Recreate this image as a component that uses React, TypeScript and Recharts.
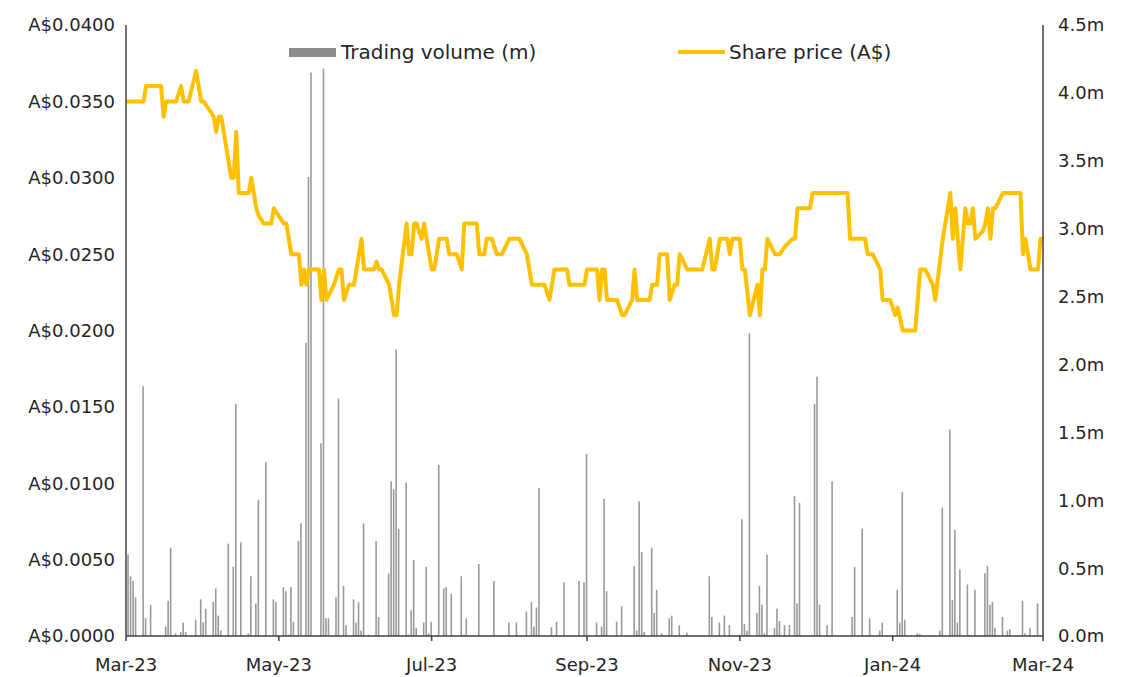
import { Bar, ComposedChart, Line, XAxis, YAxis } from 'recharts'

// x positions are calendar days counted from 1 Mar 2023
const monthTicks = [0, 61, 122, 184, 245, 306, 366]
const monthLabels = ['Mar-23', 'May-23', 'Jul-23', 'Sep-23', 'Nov-23', 'Jan-24', 'Mar-24']
const priceTicks = [0, 0.005, 0.01, 0.015, 0.02, 0.025, 0.03, 0.035, 0.04]
const volTicks = [0, 0.5, 1, 1.5, 2, 2.5, 3, 3.5, 4, 4.5]

const priceDays = [
  0, 7, 8, 14, 15, 16, 20, 22, 23, 25, 28, 30, 31, 33, 35, 36, 37, 38, 42, 43, 44, 45, 49, 50, 52, 53, 55, 58, 59, 63,
  64, 66, 69, 70, 71, 72, 73, 77, 78, 79, 80, 83, 85, 86, 87, 89, 91, 94, 95, 99, 100, 101, 102, 105, 107, 108, 109,
  112, 113, 114, 115, 116, 118, 119, 122, 123, 125, 128, 129, 132, 134, 135, 140, 141, 143, 144, 146, 148, 150, 153,
  157, 160, 162, 167, 169, 171, 176, 177, 183, 184, 188, 189, 190, 191, 192, 196, 198, 199, 202, 203, 204, 209, 210,
  212, 213, 216, 217, 219, 220, 221, 224, 230, 233, 234, 235, 237, 240, 241, 242, 245, 246, 247, 249, 252, 253, 254,
  255, 256, 259, 261, 263, 266, 267, 268, 273, 274, 288, 289, 295, 296, 298, 301, 302, 305, 307, 308, 310, 315, 317,
  319, 322, 323, 326, 329, 330, 331, 333, 335, 336, 337, 338, 339, 342, 343, 344, 345, 346, 347, 350, 357, 358, 359,
  361, 364, 365, 366,
]
const prices = [
  0.035, 0.035, 0.036, 0.036, 0.034, 0.035, 0.035, 0.036, 0.035, 0.035, 0.037, 0.035, 0.035, 0.0345, 0.034, 0.033,
  0.034, 0.034, 0.03, 0.03, 0.033, 0.029, 0.029, 0.03, 0.028, 0.0275, 0.027, 0.027, 0.028, 0.027, 0.027, 0.025, 0.025,
  0.023, 0.024, 0.023, 0.024, 0.024, 0.022, 0.024, 0.022, 0.023, 0.024, 0.024, 0.022, 0.023, 0.023, 0.026, 0.024,
  0.024, 0.0245, 0.024, 0.024, 0.023, 0.021, 0.021, 0.023, 0.027, 0.025, 0.025, 0.027, 0.027, 0.026, 0.027, 0.024,
  0.024, 0.026, 0.026, 0.025, 0.025, 0.024, 0.027, 0.027, 0.025, 0.025, 0.026, 0.026, 0.025, 0.025, 0.026, 0.026,
  0.025, 0.023, 0.023, 0.022, 0.024, 0.024, 0.023, 0.023, 0.024, 0.024, 0.022, 0.024, 0.024, 0.022, 0.022, 0.021,
  0.021, 0.022, 0.024, 0.022, 0.022, 0.023, 0.023, 0.025, 0.025, 0.022, 0.023, 0.023, 0.025, 0.024, 0.024, 0.026,
  0.024, 0.024, 0.026, 0.026, 0.025, 0.026, 0.026, 0.024, 0.024, 0.021, 0.023, 0.021, 0.024, 0.024, 0.026, 0.025,
  0.025, 0.0255, 0.026, 0.026, 0.028, 0.028, 0.029, 0.029, 0.026, 0.026, 0.025, 0.025, 0.024, 0.022, 0.022, 0.021,
  0.0215, 0.02, 0.02, 0.024, 0.024, 0.023, 0.022, 0.026, 0.029, 0.026, 0.028, 0.024, 0.028, 0.027, 0.027, 0.028,
  0.026, 0.0265, 0.027, 0.028, 0.026, 0.028, 0.028, 0.029, 0.029, 0.025, 0.026, 0.024, 0.024, 0.026, 0.026,
]

const volDays = [
  1, 2, 3, 4, 7, 8, 10, 16, 17, 18, 20, 22, 23, 24, 28, 30, 31, 32, 35, 36, 37, 38, 41, 43, 44, 46, 49, 50, 52, 53, 56,
  59, 60, 63, 64, 65, 66, 67, 69, 70, 72, 73, 74, 78, 79, 80, 81, 84, 85, 87, 88, 91, 92, 93, 94, 95, 97, 100, 101, 105,
  106, 107, 108, 109, 112, 113, 114, 115, 116, 119, 120, 121, 122, 125, 127, 128, 130, 134, 135, 136, 141, 147, 153,
  156, 160, 162, 163, 164, 165, 170, 172, 175, 181, 183, 184, 188, 190, 191, 192, 196, 198, 203, 204, 205, 206, 207,
  210, 211, 212, 214, 217, 218, 221, 224, 233, 234, 237, 239, 241, 245, 246, 247, 248, 249, 252, 253, 254, 255, 256,
  259, 260, 261, 263, 265, 267, 268, 269, 275, 276, 277, 280, 282, 290, 291, 294, 297, 301, 302, 308, 309, 310, 311,
  316, 317, 325, 326, 329, 330, 331, 332, 333, 336, 337, 339, 343, 344, 345, 346, 347, 350, 352, 353, 358, 359, 361,
  364,
]
const volumes = [
  0.6, 0.44, 0.405, 0.285, 1.84, 0.13, 0.23, 0.07, 0.26, 0.65, 0.02, 0.03, 0.1, 0.03, 0.12, 0.27, 0.1, 0.2, 0.25, 0.35,
  0.15, 0.04, 0.68, 0.51, 1.71, 0.69, 0.02, 0.44, 0.24, 1.0, 1.28, 0.27, 0.25, 0.36, 0.33, 0.01, 0.36, 0.105, 0.7,
  0.83, 2.16, 3.38, 4.15, 1.42, 4.18, 0.13, 0.13, 0.285, 1.75, 0.37, 0.08, 0.27, 0.1, 0.25, 0.04, 0.83, 0.01, 0.7,
  0.14, 0.46, 1.14, 1.08, 2.11, 0.79, 1.13, 0.01, 0.19, 0.56, 0.06, 0.1, 0.51, 0.02, 0.105, 1.26, 0.35, 0.36, 0.31,
  0.44, 0.01, 0.13, 0.53, 0.405, 0.1, 0.1, 0.18, 0.25, 0.07, 0.21, 1.09, 0.065, 0.105, 0.395, 0.405, 0.395, 1.34, 0.1,
  0.07, 1.01, 0.33, 0.105, 0.22, 0.515, 0.04, 0.99, 0.62, 0.03, 0.65, 0.17, 0.34, 0.02, 0.13, 0.15, 0.08, 0.025, 0.44,
  0.14, 0.1, 0.15, 0.08, 0.01, 0.86, 0.09, 0.04, 2.23, 0.17, 0.37, 0.23, 0.02, 0.6, 0.06, 0.2, 0.11, 0.08, 0.08, 1.03,
  0.24, 0.98, 1.71, 1.91, 0.23, 0.08, 1.14, 0.14, 0.51, 0.79, 0.13, 0.04, 0.1, 0.34, 0.1, 1.06, 0.12, 0.02, 0.015,
  0.04, 0.945, 1.52, 0.265, 0.78, 0.1, 0.49, 0.38, 0.01, 0.34, 0.46, 0.515, 0.23, 0.25, 0.06, 0.14, 0.04, 0.05, 0.26,
  0.02, 0.06, 0.24,
]

const rows = Array.from(new Set([...priceDays, ...volDays]))
  .sort((a, b) => a - b)
  .map((d) => {
    const pi = priceDays.indexOf(d)
    const vi = volDays.indexOf(d)
    return { d, price: pi >= 0 ? prices[pi] : null, vol: vi >= 0 ? volumes[vi] : null }
  })

const FONT = '"DejaVu Sans", Verdana, sans-serif'
const INK = '#262626'
const AXIS = '#404040'
const GOLD = '#FFC000'
const GREY = '#9a9a9a'
const tick = { fill: INK, fontSize: 18, fontFamily: FONT }

export default function App() {
  return (
    <div style={{ position: 'absolute', left: 0, top: 0, width: 1121, height: 677, background: '#fff', fontFamily: FONT }}>
      <ComposedChart width={1121} height={677} data={rows} margin={{ top: 25, right: 0, bottom: 0, left: 0 }}>
        <XAxis
          dataKey="d"
          type="number"
          domain={[0, 366]}
          ticks={monthTicks}
          tickFormatter={(v) => monthLabels[monthTicks.indexOf(v)] ?? ''}
          height={41}
          tick={tick}
          tickSize={5}
          tickMargin={17}
          axisLine={{ stroke: AXIS, strokeWidth: 1.5 }}
          tickLine={{ stroke: AXIS, strokeWidth: 1.5 }}
          interval={0}
        />
        <YAxis
          yAxisId="price"
          orientation="left"
          width={126}
          domain={[0, 0.04]}
          ticks={priceTicks}
          tickFormatter={(v) => 'A$' + v.toFixed(4)}
          tick={tick}
          tickSize={0}
          tickMargin={11}
          tickLine={false}
          axisLine={{ stroke: AXIS, strokeWidth: 1.5 }}
          interval={0}
        />
        <YAxis
          yAxisId="vol"
          orientation="right"
          width={78}
          domain={[0, 4.5]}
          ticks={volTicks}
          tickFormatter={(v) => v.toFixed(1) + 'm'}
          tick={tick}
          tickSize={0}
          tickMargin={15}
          tickLine={false}
          axisLine={{ stroke: AXIS, strokeWidth: 1.5 }}
          interval={0}
        />
        <Bar yAxisId="vol" dataKey="vol" fill={GREY} barSize={1.6} isAnimationActive={false} />
        <Line
          yAxisId="price"
          dataKey="price"
          type="linear"
          stroke={GOLD}
          strokeWidth={4}
          strokeLinejoin="round"
          dot={false}
          activeDot={false}
          connectNulls
          isAnimationActive={false}
        />
      </ComposedChart>
      <div style={{ position: 'absolute', left: 289, top: 40, display: 'flex', alignItems: 'center', fontSize: 20, color: INK }}>
        <span style={{ width: 47, height: 9, background: '#8c8c8c', marginRight: 5 }} />
        Trading volume (m)
      </div>
      <div style={{ position: 'absolute', left: 678, top: 40, display: 'flex', alignItems: 'center', fontSize: 20, color: INK }}>
        <span style={{ width: 47, height: 4, background: GOLD, marginRight: 4 }} />
        Share price (A$)
      </div>
    </div>
  )
}
